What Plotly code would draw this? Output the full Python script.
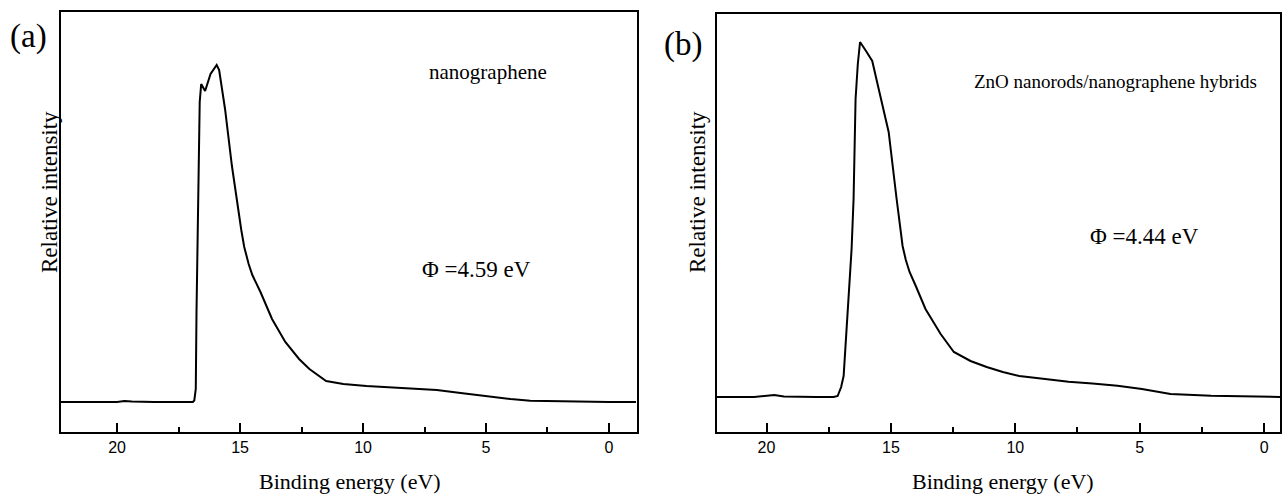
import plotly.graph_objects as go

# ---------------- data ----------------
energy_a = [22.3, 21.0, 20.0, 19.7, 19.4, 18.5, 17.5, 17.0, 16.92, 16.86, 16.8, 16.77, 16.74, 16.7,
            16.64, 16.58, 16.5, 16.42, 16.2, 16.05, 15.95, 15.85, 15.75, 15.61, 15.33, 15.1, 14.95,
            14.83, 14.65, 14.5, 14.17, 13.7, 13.16, 12.6, 12.18, 11.5, 10.8, 9.86, 9.0, 8.19, 7.0,
            6.03, 5.4, 4.85, 4.0, 3.2, 1.55, 0.0, -1.1]
intensity_a = [30, 30, 30, 31, 30.5, 30, 30, 30, 30, 31.5, 43, 120, 183, 260,
               330, 348, 344, 341, 358, 364, 367, 362, 345, 323, 266, 226, 202,
               185, 168, 157, 140, 113, 90, 73, 63, 51, 48, 46, 45, 44, 42,
               39, 37, 35, 33, 31.3, 30.3, 30, 30]

energy_b = [22.0, 20.5, 19.69, 19.3, 18.0, 17.3, 17.14, 17.0, 16.9, 16.74, 16.58, 16.5, 16.42,
            16.33, 16.24, 16.0, 15.75, 15.5, 15.09, 14.77, 14.53, 14.4, 14.25, 14.0, 13.61, 13.0,
            12.47, 11.8, 11.15, 10.5, 9.84, 8.8, 7.86, 6.9, 5.89, 4.91, 4.3, 3.76, 2.13, 0.5, -0.7]
intensity_b = [35, 35, 37, 35.5, 35, 35, 36, 45, 56, 116, 183, 233, 333,
               368, 390, 381, 371, 344, 300, 233, 186, 172, 160, 146, 123, 98,
               80, 71, 65, 60, 56, 53, 50.3, 48.5, 46.3, 43, 40, 38, 36.3, 35.3, 35]

x_ticks = [20, 15, 10, 5, 0]
x_tick_labels = ["20", "15", "10", "5", "0"]
x_minor_ticks = [17.5, 12.5, 7.5, 2.5]
x_title = "Binding energy (eV)"
y_title = "Relative intensity"
panel_labels = ["(a)", "(b)"]
sample_labels = ["nanographene", "ZnO nanorods/nanographene hybrids"]
phi_labels = ["\u03a6 =4.59 eV", "\u03a6 =4.44 eV"]

# ---------------- layout helpers ----------------
W, H = 1282, 496
def px(x):
    return x / W
def py(y):
    return (H - y) / H

SERIF = "Liberation Serif, Times New Roman, serif"
SANS = "Liberation Sans, Arial, sans-serif"

fig = go.Figure()
fig.add_trace(go.Scatter(x=energy_a, y=intensity_a, mode="lines",
                         line=dict(color="black", width=2), xaxis="x", yaxis="y",
                         showlegend=False, hoverinfo="skip"))
fig.add_trace(go.Scatter(x=energy_b, y=intensity_b, mode="lines",
                         line=dict(color="black", width=2), xaxis="x2", yaxis="y2",
                         showlegend=False, hoverinfo="skip"))

def xaxis_cfg(dom, rng, anchor):
    return dict(domain=dom, range=rng, anchor=anchor, showline=True, mirror=True,
                linecolor="black", linewidth=2, ticks="inside", ticklen=9, tickwidth=1.5,
                tickcolor="black", tickvals=x_ticks, ticktext=x_tick_labels,
                tickfont=dict(family=SANS, size=16, color="black"),
                minor=dict(tickvals=x_minor_ticks, ticks="inside", ticklen=5,
                           tickwidth=1.5, tickcolor="black"),
                showgrid=False, zeroline=False, fixedrange=True)

def yaxis_cfg(dom, rng, anchor):
    return dict(domain=dom, range=rng, anchor=anchor, showline=True, mirror=True,
                linecolor="black", linewidth=2, ticks="", showticklabels=False,
                showgrid=False, zeroline=False, fixedrange=True)

fig.update_layout(
    width=W, height=H,
    margin=dict(l=0, r=0, t=0, b=0),
    paper_bgcolor="white", plot_bgcolor="white",
    xaxis=xaxis_cfg([px(61), px(637)], [22.28, -1.14], "y"),
    yaxis=yaxis_cfg([py(432), py(12)], [0, 420], "x"),
    xaxis2=xaxis_cfg([px(717), px(1280)], [21.99, -0.64], "y2"),
    yaxis2=yaxis_cfg([py(432), py(14)], [0, 418], "x2"),
)

ann = []
def add_text(text, x, y, size, angle=0, family=SERIF):
    ann.append(dict(text=text, x=px(x), y=py(y), xref="paper", yref="paper",
                    xanchor="center", yanchor="middle", showarrow=False, textangle=angle,
                    font=dict(family=family, size=size, color="black")))

add_text(panel_labels[0], 28, 36, 33)
add_text(panel_labels[1], 683, 44, 33)
add_text(sample_labels[0], 488, 72, 21)
add_text(sample_labels[1], 1115, 82, 19)
add_text(phi_labels[0], 476, 269, 23)
add_text(phi_labels[1], 1144, 237, 23)
add_text(y_title, 49, 192, 23, angle=-90)
add_text(y_title, 697, 192, 23, angle=-90)
add_text(x_title, 350, 481, 22)
add_text(x_title, 1003, 481, 22)
fig.update_layout(annotations=ann)

fig.write_html("out.html", config={"displayModeBar": False},
               post_script="document.body.style.margin='0';document.body.style.overflow='hidden';")
